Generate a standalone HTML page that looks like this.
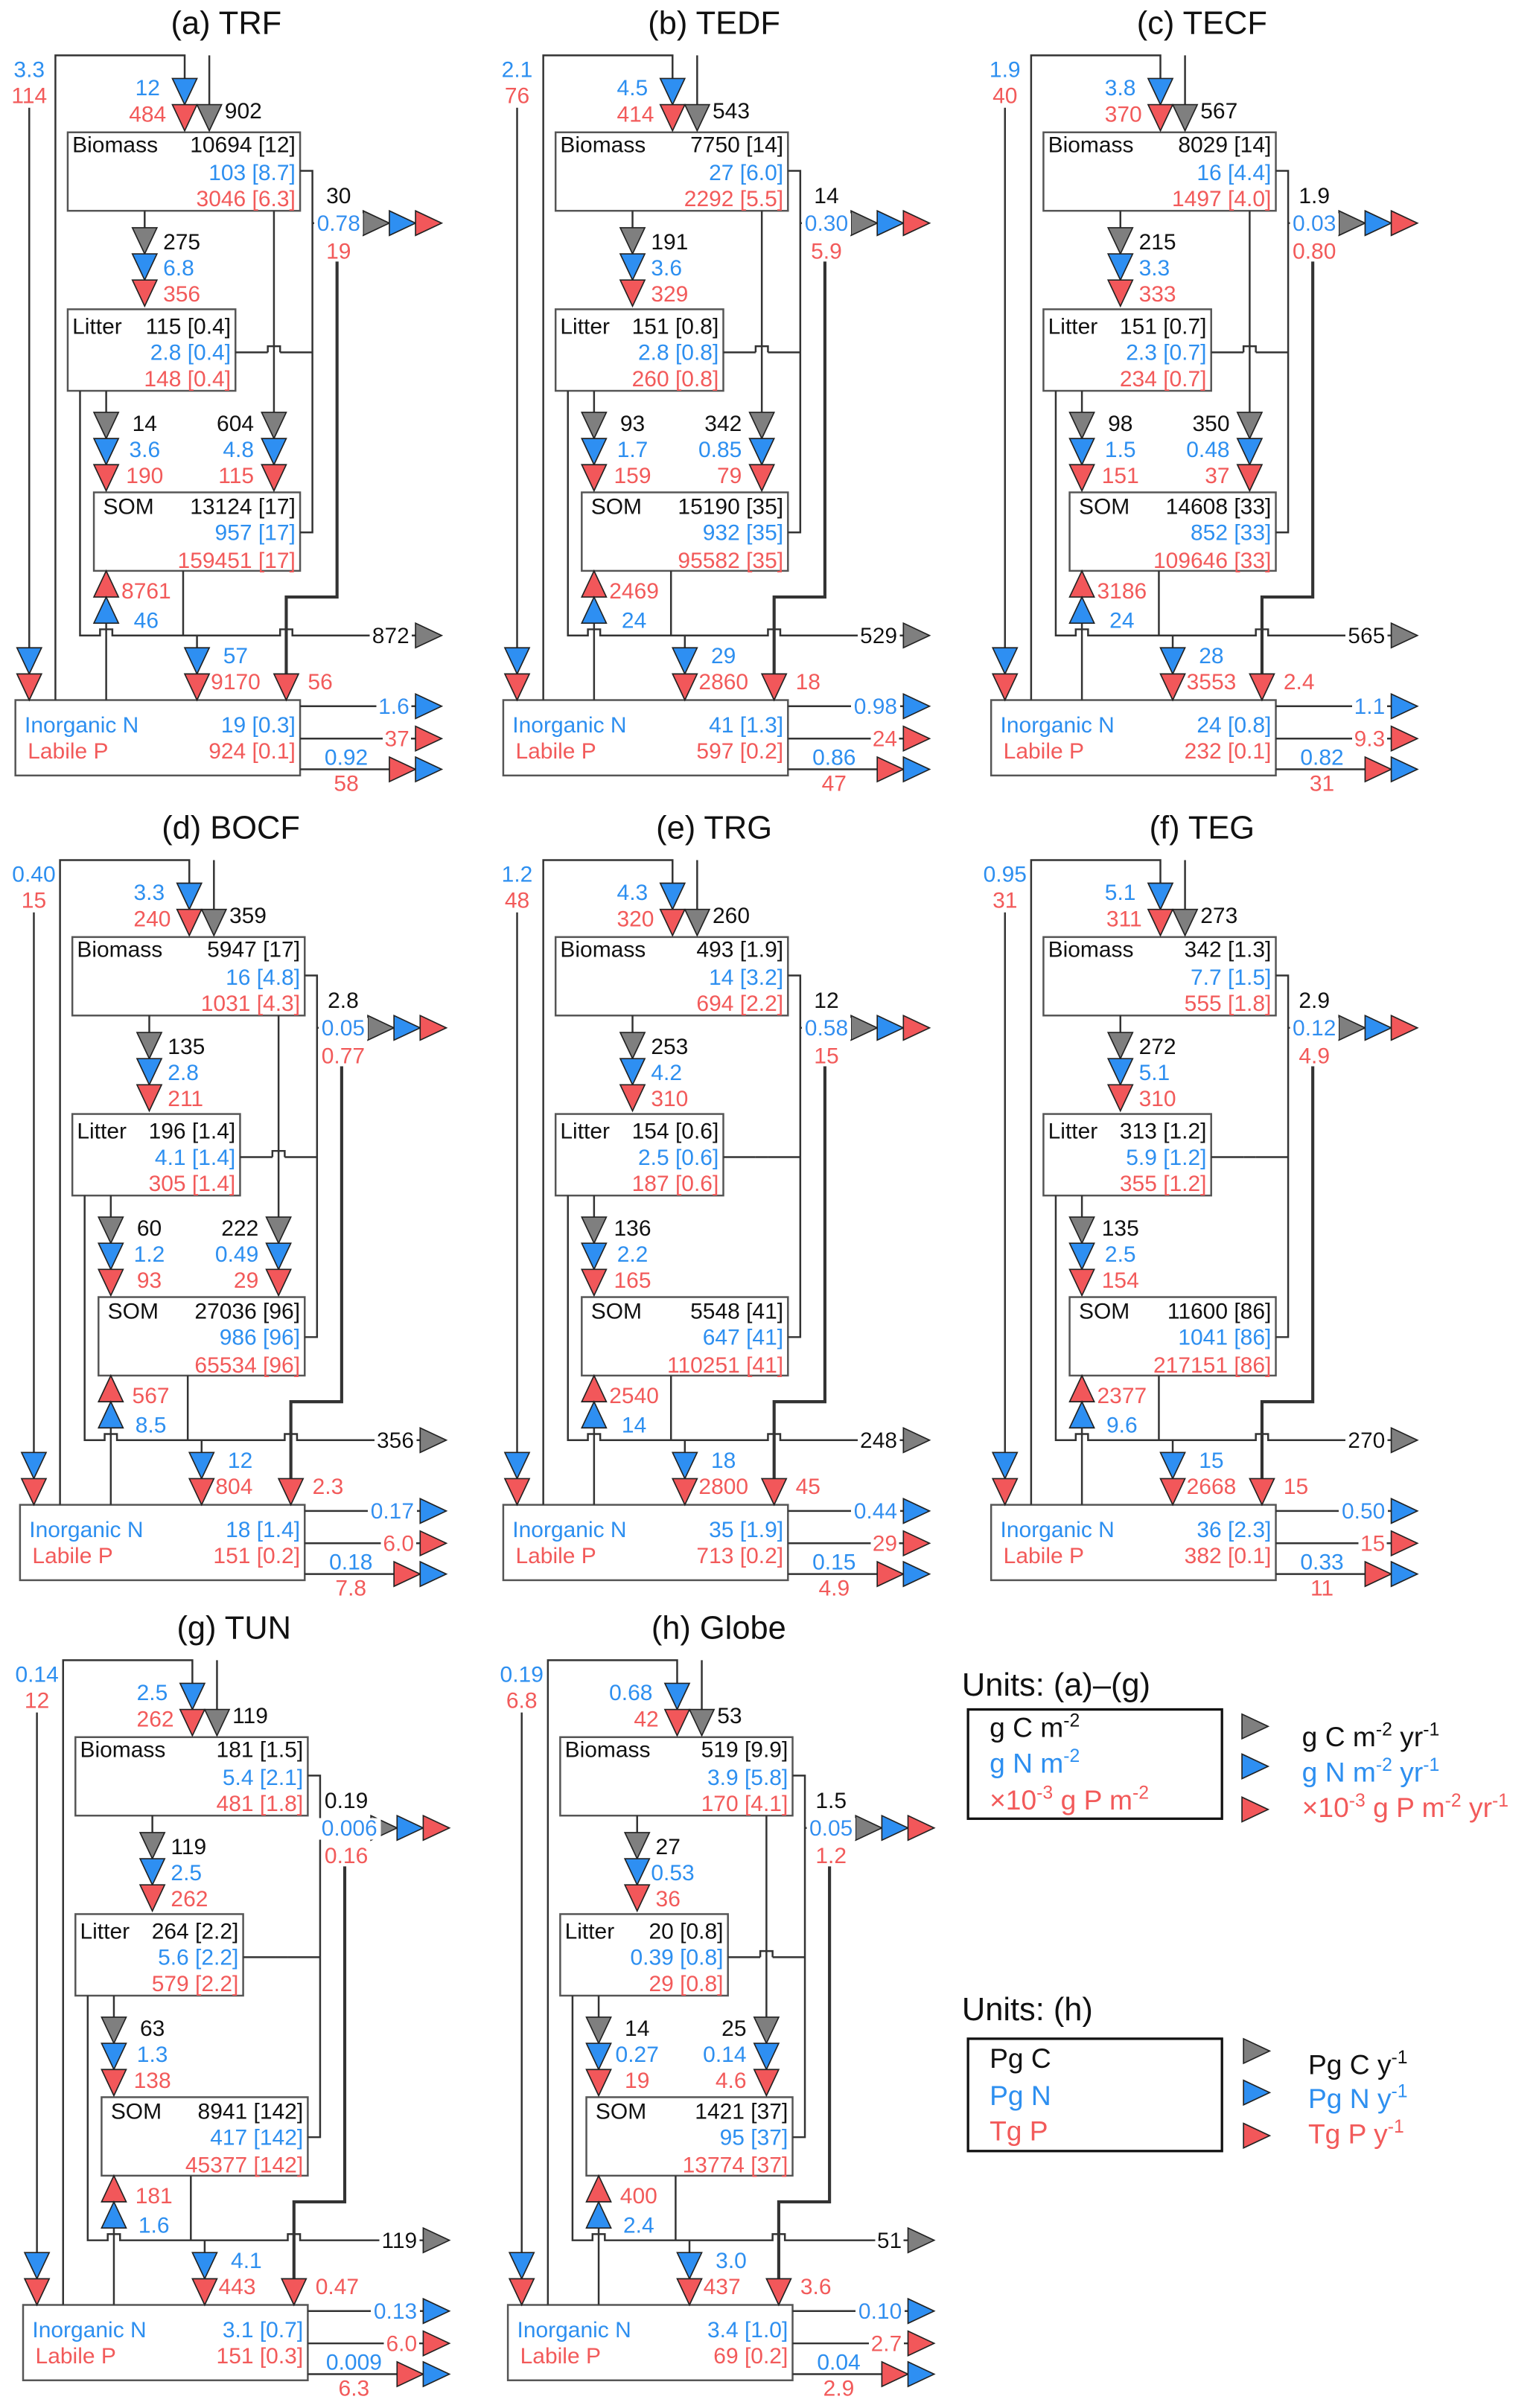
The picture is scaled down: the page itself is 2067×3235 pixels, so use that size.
<!DOCTYPE html>
<html><head><meta charset="utf-8">
<style>
html,body{margin:0;padding:0;background:#fff;}
svg{display:block;}
text{font-family:"Liberation Sans",Arial,sans-serif;font-size:14.5px;fill:#111;}
text.t{font-size:21px;}
.m{text-anchor:middle;}
.e{text-anchor:end;}
text.b{fill:#2d8ff0;}
text.r{fill:#f25a5a;}
.o{filter:url(#bg);}
.ln{fill:none;stroke:#333;stroke-width:1.2;}
.bx{fill:none;stroke:#555;stroke-width:1.2;}
text.lg{font-size:18px;}
</style></head><body>
<svg width="2067" height="3235" viewBox="0 0 1000 1565" preserveAspectRatio="none" xmlns="http://www.w3.org/2000/svg" xmlns:xlink="http://www.w3.org/1999/xlink">
<defs>
<filter id="bg" x="-0.06" y="0.08" width="1.12" height="0.86"><feFlood flood-color="#fff"/><feMerge><feMergeNode/><feMergeNode in="SourceGraphic"/></feMerge></filter>
<path id="d" d="M-8,0H8L0,17Z" stroke="#222" stroke-width="0.8"/>
<path id="u" d="M-8,17H8L0,0Z" stroke="#222" stroke-width="0.8"/>
<path id="rt" d="M0,-8V8L17,0Z" stroke="#222" stroke-width="0.8"/>
<g id="base">
<rect class="bx" x="44" y="86" width="151" height="51"/>
<rect class="bx" x="44" y="201" width="109" height="53"/>
<rect class="bx" x="61" y="320" width="134" height="51"/>
<rect class="bx" x="10" y="455" width="185" height="49"/>
<path class="ln" d="M19,70V421 M36,455V36H120V51 M136,36V68 M94,137V148 M69,254V268 M195,111H203V346H195 M203,145H207 M153,229H174 M182,229H203 M52,254V413H65V409H73V413H182V409H190V413H270 M119,371V413 M128,413V421 M69,455V405 M195,459H270 M195,480H270 M195,500H253"/>
<path class="ln" style="stroke-width:2" d="M219,170V388H186V438"/>
<use xlink:href="#d" x="19" y="421" fill="#2e8ff2"/>
<use xlink:href="#d" x="19" y="438" fill="#f2575a"/>
<use xlink:href="#d" x="120" y="51" fill="#2e8ff2"/>
<use xlink:href="#d" x="120" y="68" fill="#f2575a"/>
<use xlink:href="#d" x="136" y="68" fill="#7f7f7f"/>
<use xlink:href="#d" x="94" y="148" fill="#7f7f7f"/>
<use xlink:href="#d" x="94" y="165" fill="#2e8ff2"/>
<use xlink:href="#d" x="94" y="182" fill="#f2575a"/>
<use xlink:href="#d" x="69" y="268" fill="#7f7f7f"/>
<use xlink:href="#d" x="69" y="285" fill="#2e8ff2"/>
<use xlink:href="#d" x="69" y="302" fill="#f2575a"/>
<use xlink:href="#u" x="69" y="371" fill="#f2575a"/>
<use xlink:href="#u" x="69" y="388" fill="#2e8ff2"/>
<use xlink:href="#d" x="128" y="421" fill="#2e8ff2"/>
<use xlink:href="#d" x="128" y="438" fill="#f2575a"/>
<use xlink:href="#d" x="186" y="438" fill="#f2575a"/>
<use xlink:href="#rt" x="236" y="145" fill="#7f7f7f"/>
<use xlink:href="#rt" x="253" y="145" fill="#2e8ff2"/>
<use xlink:href="#rt" x="270" y="145" fill="#f2575a"/>
<use xlink:href="#rt" x="270" y="413" fill="#7f7f7f"/>
<use xlink:href="#rt" x="270" y="459" fill="#2e8ff2"/>
<use xlink:href="#rt" x="270" y="480" fill="#f2575a"/>
<use xlink:href="#rt" x="253" y="500" fill="#f2575a"/>
<use xlink:href="#rt" x="270" y="500" fill="#2e8ff2"/>
</g>
<g id="rb">
<path class="ln" d="M178,137V268 M174,229V225H182V229"/>
<use xlink:href="#d" x="178" y="268" fill="#7f7f7f"/>
<use xlink:href="#d" x="178" y="285" fill="#2e8ff2"/>
<use xlink:href="#d" x="178" y="302" fill="#f2575a"/>
</g>
<g id="nrb"><path class="ln" d="M174,229H182"/></g>
</defs>

<!-- (a) -->
<g transform="translate(0,0)">
<use xlink:href="#base"/><use xlink:href="#rb"/>
<text x="147" y="22" class="t m">(a) TRF</text>
<text x="19" y="50" class="b m">3.3</text><text x="19" y="67" class="r m">114</text>
<text x="104" y="62" class="b e">12</text><text x="108" y="79" class="r e">484</text><text x="146" y="77">902</text>
<text x="47" y="99">Biomass</text><text x="192" y="99" class="e">10694 [12]</text><text x="192" y="117" class="b e">103 [8.7]</text><text x="192" y="134" class="r e">3046 [6.3]</text>
<text x="220" y="132" class="m">30</text><text x="220" y="150" class="b m o">0.78</text><text x="220" y="168" class="r m">19</text>
<text x="106" y="162">275</text><text x="106" y="179" class="b">6.8</text><text x="106" y="196" class="r">356</text>
<text x="47" y="217">Litter</text><text x="150" y="217" class="e">115 [0.4]</text><text x="150" y="234" class="b e">2.8 [0.4]</text><text x="150" y="251" class="r e">148 [0.4]</text>
<text x="94" y="280" class="m">14</text><text x="94" y="297" class="b m">3.6</text><text x="94" y="314" class="r m">190</text>
<text x="165" y="280" class="e">604</text><text x="165" y="297" class="b e">4.8</text><text x="165" y="314" class="r e">115</text>
<text x="67" y="334">SOM</text><text x="192" y="334" class="e">13124 [17]</text><text x="192" y="351" class="b e">957 [17]</text><text x="192" y="369" class="r e">159451 [17]</text>
<text x="95" y="389" class="r m">8761</text><text x="95" y="408" class="b m">46</text>
<text x="266" y="418" class="e o">872</text>
<text x="145" y="431" class="b">57</text><text x="137" y="448" class="r">9170</text>
<text x="200" y="448" class="r">56</text>
<text x="16" y="476" class="b">Inorganic N</text><text x="18" y="493" class="r">Labile P</text><text x="192" y="476" class="b e">19 [0.3]</text><text x="192" y="493" class="r e">924 [0.1]</text>
<text x="266" y="464" class="b e o">1.6</text><text x="266" y="485" class="r e o">37</text><text x="225" y="497" class="b m">0.92</text><text x="225" y="514" class="r m">58</text>
</g>

<!-- (b) -->
<g transform="translate(317,0)">
<use xlink:href="#base"/><use xlink:href="#rb"/>
<text x="147" y="22" class="t m">(b) TEDF</text>
<text x="19" y="50" class="b m">2.1</text><text x="19" y="67" class="r m">76</text>
<text x="104" y="62" class="b e">4.5</text><text x="108" y="79" class="r e">414</text><text x="146" y="77">543</text>
<text x="47" y="99">Biomass</text><text x="192" y="99" class="e">7750 [14]</text><text x="192" y="117" class="b e">27 [6.0]</text><text x="192" y="134" class="r e">2292 [5.5]</text>
<text x="220" y="132" class="m">14</text><text x="220" y="150" class="b m o">0.30</text><text x="220" y="168" class="r m">5.9</text>
<text x="106" y="162">191</text><text x="106" y="179" class="b">3.6</text><text x="106" y="196" class="r">329</text>
<text x="47" y="217">Litter</text><text x="150" y="217" class="e">151 [0.8]</text><text x="150" y="234" class="b e">2.8 [0.8]</text><text x="150" y="251" class="r e">260 [0.8]</text>
<text x="94" y="280" class="m">93</text><text x="94" y="297" class="b m">1.7</text><text x="94" y="314" class="r m">159</text>
<text x="165" y="280" class="e">342</text><text x="165" y="297" class="b e">0.85</text><text x="165" y="314" class="r e">79</text>
<text x="67" y="334">SOM</text><text x="192" y="334" class="e">15190 [35]</text><text x="192" y="351" class="b e">932 [35]</text><text x="192" y="369" class="r e">95582 [35]</text>
<text x="95" y="389" class="r m">2469</text><text x="95" y="408" class="b m">24</text>
<text x="266" y="418" class="e o">529</text>
<text x="145" y="431" class="b">29</text><text x="137" y="448" class="r">2860</text>
<text x="200" y="448" class="r">18</text>
<text x="16" y="476" class="b">Inorganic N</text><text x="18" y="493" class="r">Labile P</text><text x="192" y="476" class="b e">41 [1.3]</text><text x="192" y="493" class="r e">597 [0.2]</text>
<text x="266" y="464" class="b e o">0.98</text><text x="266" y="485" class="r e o">24</text><text x="225" y="497" class="b m">0.86</text><text x="225" y="514" class="r m">47</text>
</g>

<!-- (c) -->
<g transform="translate(634,0)">
<use xlink:href="#base"/><use xlink:href="#rb"/>
<text x="147" y="22" class="t m">(c) TECF</text>
<text x="19" y="50" class="b m">1.9</text><text x="19" y="67" class="r m">40</text>
<text x="104" y="62" class="b e">3.8</text><text x="108" y="79" class="r e">370</text><text x="146" y="77">567</text>
<text x="47" y="99">Biomass</text><text x="192" y="99" class="e">8029 [14]</text><text x="192" y="117" class="b e">16 [4.4]</text><text x="192" y="134" class="r e">1497 [4.0]</text>
<text x="220" y="132" class="m">1.9</text><text x="220" y="150" class="b m o">0.03</text><text x="220" y="168" class="r m">0.80</text>
<text x="106" y="162">215</text><text x="106" y="179" class="b">3.3</text><text x="106" y="196" class="r">333</text>
<text x="47" y="217">Litter</text><text x="150" y="217" class="e">151 [0.7]</text><text x="150" y="234" class="b e">2.3 [0.7]</text><text x="150" y="251" class="r e">234 [0.7]</text>
<text x="94" y="280" class="m">98</text><text x="94" y="297" class="b m">1.5</text><text x="94" y="314" class="r m">151</text>
<text x="165" y="280" class="e">350</text><text x="165" y="297" class="b e">0.48</text><text x="165" y="314" class="r e">37</text>
<text x="67" y="334">SOM</text><text x="192" y="334" class="e">14608 [33]</text><text x="192" y="351" class="b e">852 [33]</text><text x="192" y="369" class="r e">109646 [33]</text>
<text x="95" y="389" class="r m">3186</text><text x="95" y="408" class="b m">24</text>
<text x="266" y="418" class="e o">565</text>
<text x="145" y="431" class="b">28</text><text x="137" y="448" class="r">3553</text>
<text x="200" y="448" class="r">2.4</text>
<text x="16" y="476" class="b">Inorganic N</text><text x="18" y="493" class="r">Labile P</text><text x="192" y="476" class="b e">24 [0.8]</text><text x="192" y="493" class="r e">232 [0.1]</text>
<text x="266" y="464" class="b e o">1.1</text><text x="266" y="485" class="r e o">9.3</text><text x="225" y="497" class="b m">0.82</text><text x="225" y="514" class="r m">31</text>
</g>

<!-- (d) -->
<g transform="translate(3,523)">
<use xlink:href="#base"/><use xlink:href="#rb"/>
<text x="147" y="22" class="t m">(d) BOCF</text>
<text x="19" y="50" class="b m">0.40</text><text x="19" y="67" class="r m">15</text>
<text x="104" y="62" class="b e">3.3</text><text x="108" y="79" class="r e">240</text><text x="146" y="77">359</text>
<text x="47" y="99">Biomass</text><text x="192" y="99" class="e">5947 [17]</text><text x="192" y="117" class="b e">16 [4.8]</text><text x="192" y="134" class="r e">1031 [4.3]</text>
<text x="220" y="132" class="m">2.8</text><text x="220" y="150" class="b m o">0.05</text><text x="220" y="168" class="r m">0.77</text>
<text x="106" y="162">135</text><text x="106" y="179" class="b">2.8</text><text x="106" y="196" class="r">211</text>
<text x="47" y="217">Litter</text><text x="150" y="217" class="e">196 [1.4]</text><text x="150" y="234" class="b e">4.1 [1.4]</text><text x="150" y="251" class="r e">305 [1.4]</text>
<text x="94" y="280" class="m">60</text><text x="94" y="297" class="b m">1.2</text><text x="94" y="314" class="r m">93</text>
<text x="165" y="280" class="e">222</text><text x="165" y="297" class="b e">0.49</text><text x="165" y="314" class="r e">29</text>
<text x="67" y="334">SOM</text><text x="192" y="334" class="e">27036 [96]</text><text x="192" y="351" class="b e">986 [96]</text><text x="192" y="369" class="r e">65534 [96]</text>
<text x="95" y="389" class="r m">567</text><text x="95" y="408" class="b m">8.5</text>
<text x="266" y="418" class="e o">356</text>
<text x="145" y="431" class="b">12</text><text x="137" y="448" class="r">804</text>
<text x="200" y="448" class="r">2.3</text>
<text x="16" y="476" class="b">Inorganic N</text><text x="18" y="493" class="r">Labile P</text><text x="192" y="476" class="b e">18 [1.4]</text><text x="192" y="493" class="r e">151 [0.2]</text>
<text x="266" y="464" class="b e o">0.17</text><text x="266" y="485" class="r e o">6.0</text><text x="225" y="497" class="b m">0.18</text><text x="225" y="514" class="r m">7.8</text>
</g>

<!-- (e) -->
<g transform="translate(317,523)">
<use xlink:href="#base"/><use xlink:href="#nrb"/>
<text x="147" y="22" class="t m">(e) TRG</text>
<text x="19" y="50" class="b m">1.2</text><text x="19" y="67" class="r m">48</text>
<text x="104" y="62" class="b e">4.3</text><text x="108" y="79" class="r e">320</text><text x="146" y="77">260</text>
<text x="47" y="99">Biomass</text><text x="192" y="99" class="e">493 [1.9]</text><text x="192" y="117" class="b e">14 [3.2]</text><text x="192" y="134" class="r e">694 [2.2]</text>
<text x="220" y="132" class="m">12</text><text x="220" y="150" class="b m o">0.58</text><text x="220" y="168" class="r m">15</text>
<text x="106" y="162">253</text><text x="106" y="179" class="b">4.2</text><text x="106" y="196" class="r">310</text>
<text x="47" y="217">Litter</text><text x="150" y="217" class="e">154 [0.6]</text><text x="150" y="234" class="b e">2.5 [0.6]</text><text x="150" y="251" class="r e">187 [0.6]</text>
<text x="94" y="280" class="m">136</text><text x="94" y="297" class="b m">2.2</text><text x="94" y="314" class="r m">165</text>
<text x="67" y="334">SOM</text><text x="192" y="334" class="e">5548 [41]</text><text x="192" y="351" class="b e">647 [41]</text><text x="192" y="369" class="r e">110251 [41]</text>
<text x="95" y="389" class="r m">2540</text><text x="95" y="408" class="b m">14</text>
<text x="266" y="418" class="e o">248</text>
<text x="145" y="431" class="b">18</text><text x="137" y="448" class="r">2800</text>
<text x="200" y="448" class="r">45</text>
<text x="16" y="476" class="b">Inorganic N</text><text x="18" y="493" class="r">Labile P</text><text x="192" y="476" class="b e">35 [1.9]</text><text x="192" y="493" class="r e">713 [0.2]</text>
<text x="266" y="464" class="b e o">0.44</text><text x="266" y="485" class="r e o">29</text><text x="225" y="497" class="b m">0.15</text><text x="225" y="514" class="r m">4.9</text>
</g>

<!-- (f) -->
<g transform="translate(634,523)">
<use xlink:href="#base"/><use xlink:href="#nrb"/>
<text x="147" y="22" class="t m">(f) TEG</text>
<text x="19" y="50" class="b m">0.95</text><text x="19" y="67" class="r m">31</text>
<text x="104" y="62" class="b e">5.1</text><text x="108" y="79" class="r e">311</text><text x="146" y="77">273</text>
<text x="47" y="99">Biomass</text><text x="192" y="99" class="e">342 [1.3]</text><text x="192" y="117" class="b e">7.7 [1.5]</text><text x="192" y="134" class="r e">555 [1.8]</text>
<text x="220" y="132" class="m">2.9</text><text x="220" y="150" class="b m o">0.12</text><text x="220" y="168" class="r m">4.9</text>
<text x="106" y="162">272</text><text x="106" y="179" class="b">5.1</text><text x="106" y="196" class="r">310</text>
<text x="47" y="217">Litter</text><text x="150" y="217" class="e">313 [1.2]</text><text x="150" y="234" class="b e">5.9 [1.2]</text><text x="150" y="251" class="r e">355 [1.2]</text>
<text x="94" y="280" class="m">135</text><text x="94" y="297" class="b m">2.5</text><text x="94" y="314" class="r m">154</text>
<text x="67" y="334">SOM</text><text x="192" y="334" class="e">11600 [86]</text><text x="192" y="351" class="b e">1041 [86]</text><text x="192" y="369" class="r e">217151 [86]</text>
<text x="95" y="389" class="r m">2377</text><text x="95" y="408" class="b m">9.6</text>
<text x="266" y="418" class="e o">270</text>
<text x="145" y="431" class="b">15</text><text x="137" y="448" class="r">2668</text>
<text x="200" y="448" class="r">15</text>
<text x="16" y="476" class="b">Inorganic N</text><text x="18" y="493" class="r">Labile P</text><text x="192" y="476" class="b e">36 [2.3]</text><text x="192" y="493" class="r e">382 [0.1]</text>
<text x="266" y="464" class="b e o">0.50</text><text x="266" y="485" class="r e o">15</text><text x="225" y="497" class="b m">0.33</text><text x="225" y="514" class="r m">11</text>
</g>

<!-- (g) -->
<g transform="translate(5,1043)">
<use xlink:href="#base"/><use xlink:href="#nrb"/>
<text x="147" y="22" class="t m">(g) TUN</text>
<text x="19" y="50" class="b m">0.14</text><text x="19" y="67" class="r m">12</text>
<text x="104" y="62" class="b e">2.5</text><text x="108" y="79" class="r e">262</text><text x="146" y="77">119</text>
<text x="47" y="99">Biomass</text><text x="192" y="99" class="e">181 [1.5]</text><text x="192" y="117" class="b e">5.4 [2.1]</text><text x="192" y="134" class="r e">481 [1.8]</text>
<text x="220" y="132" class="m">0.19</text><text x="222" y="150" class="b m o">0.006</text><text x="220" y="168" class="r m">0.16</text>
<text x="106" y="162">119</text><text x="106" y="179" class="b">2.5</text><text x="106" y="196" class="r">262</text>
<text x="47" y="217">Litter</text><text x="150" y="217" class="e">264 [2.2]</text><text x="150" y="234" class="b e">5.6 [2.2]</text><text x="150" y="251" class="r e">579 [2.2]</text>
<text x="94" y="280" class="m">63</text><text x="94" y="297" class="b m">1.3</text><text x="94" y="314" class="r m">138</text>
<text x="67" y="334">SOM</text><text x="192" y="334" class="e">8941 [142]</text><text x="192" y="351" class="b e">417 [142]</text><text x="192" y="369" class="r e">45377 [142]</text>
<text x="95" y="389" class="r m">181</text><text x="95" y="408" class="b m">1.6</text>
<text x="266" y="418" class="e o">119</text>
<text x="145" y="431" class="b">4.1</text><text x="137" y="448" class="r">443</text>
<text x="200" y="448" class="r">0.47</text>
<text x="16" y="476" class="b">Inorganic N</text><text x="18" y="493" class="r">Labile P</text><text x="192" y="476" class="b e">3.1 [0.7]</text><text x="192" y="493" class="r e">151 [0.3]</text>
<text x="266" y="464" class="b e o">0.13</text><text x="266" y="485" class="r e o">6.0</text><text x="225" y="497" class="b m">0.009</text><text x="225" y="514" class="r m">6.3</text>
</g>

<!-- (h) -->
<g transform="translate(320,1043)">
<use xlink:href="#base"/><use xlink:href="#rb"/>
<text x="147" y="22" class="t m">(h) Globe</text>
<text x="19" y="50" class="b m">0.19</text><text x="19" y="67" class="r m">6.8</text>
<text x="104" y="62" class="b e">0.68</text><text x="108" y="79" class="r e">42</text><text x="146" y="77">53</text>
<text x="47" y="99">Biomass</text><text x="192" y="99" class="e">519 [9.9]</text><text x="192" y="117" class="b e">3.9 [5.8]</text><text x="192" y="134" class="r e">170 [4.1]</text>
<text x="220" y="132" class="m">1.5</text><text x="220" y="150" class="b m o">0.05</text><text x="220" y="168" class="r m">1.2</text>
<text x="106" y="162">27</text><text x="103" y="179" class="b">0.53</text><text x="106" y="196" class="r">36</text>
<text x="47" y="217">Litter</text><text x="150" y="217" class="e">20 [0.8]</text><text x="150" y="234" class="b e">0.39 [0.8]</text><text x="150" y="251" class="r e">29 [0.8]</text>
<text x="94" y="280" class="m">14</text><text x="94" y="297" class="b m">0.27</text><text x="94" y="314" class="r m">19</text>
<text x="165" y="280" class="e">25</text><text x="165" y="297" class="b e">0.14</text><text x="165" y="314" class="r e">4.6</text>
<text x="67" y="334">SOM</text><text x="192" y="334" class="e">1421 [37]</text><text x="192" y="351" class="b e">95 [37]</text><text x="192" y="369" class="r e">13774 [37]</text>
<text x="95" y="389" class="r m">400</text><text x="95" y="408" class="b m">2.4</text>
<text x="266" y="418" class="e o">51</text>
<text x="145" y="431" class="b">3.0</text><text x="137" y="448" class="r">437</text>
<text x="200" y="448" class="r">3.6</text>
<text x="16" y="476" class="b">Inorganic N</text><text x="18" y="493" class="r">Labile P</text><text x="192" y="476" class="b e">3.4 [1.0]</text><text x="192" y="493" class="r e">69 [0.2]</text>
<text x="266" y="464" class="b e o">0.10</text><text x="266" y="485" class="r e o">2.7</text><text x="225" y="497" class="b m">0.04</text><text x="225" y="514" class="r m">2.9</text>
</g>

<!-- Legend -->
<text x="625" y="1102" class="t">Units: (a)–(g)</text>
<rect x="629" y="1111" width="165" height="71" fill="none" stroke="#111" stroke-width="1.6"/>
<text x="643" y="1129" class="lg">g C m<tspan dy="-7" font-size="12">-2</tspan></text>
<text x="643" y="1152" class="lg b">g N m<tspan dy="-7" font-size="12">-2</tspan></text>
<text x="643" y="1176" class="lg r">×10<tspan dy="-7" font-size="12">-3</tspan><tspan dy="7"> g P m</tspan><tspan dy="-7" font-size="12">-2</tspan></text>
<use xlink:href="#rt" x="807" y="1122" fill="#7f7f7f"/>
<use xlink:href="#rt" x="807" y="1148" fill="#2e8ff2"/>
<use xlink:href="#rt" x="807" y="1176" fill="#f2575a"/>
<text x="846" y="1135" class="lg">g C m<tspan dy="-7" font-size="12">-2</tspan><tspan dy="7"> yr</tspan><tspan dy="-7" font-size="12">-1</tspan></text>
<text x="846" y="1158" class="lg b">g N m<tspan dy="-7" font-size="12">-2</tspan><tspan dy="7"> yr</tspan><tspan dy="-7" font-size="12">-1</tspan></text>
<text x="846" y="1181" class="lg r">×10<tspan dy="-7" font-size="12">-3</tspan><tspan dy="7"> g P m</tspan><tspan dy="-7" font-size="12">-2</tspan><tspan dy="7"> yr</tspan><tspan dy="-7" font-size="12">-1</tspan></text>

<text x="625" y="1313" class="t">Units: (h)</text>
<rect x="629" y="1325" width="165" height="73" fill="none" stroke="#111" stroke-width="1.6"/>
<text x="643" y="1344" class="lg">Pg C</text>
<text x="643" y="1368" class="lg b">Pg N</text>
<text x="643" y="1391" class="lg r">Tg P</text>
<use xlink:href="#rt" x="808" y="1333" fill="#7f7f7f"/>
<use xlink:href="#rt" x="808" y="1360" fill="#2e8ff2"/>
<use xlink:href="#rt" x="808" y="1388" fill="#f2575a"/>
<text x="850" y="1348" class="lg">Pg C y<tspan dy="-7" font-size="12">-1</tspan></text>
<text x="850" y="1370" class="lg b">Pg N y<tspan dy="-7" font-size="12">-1</tspan></text>
<text x="850" y="1393" class="lg r">Tg P y<tspan dy="-7" font-size="12">-1</tspan></text>
</svg>
</body></html>
